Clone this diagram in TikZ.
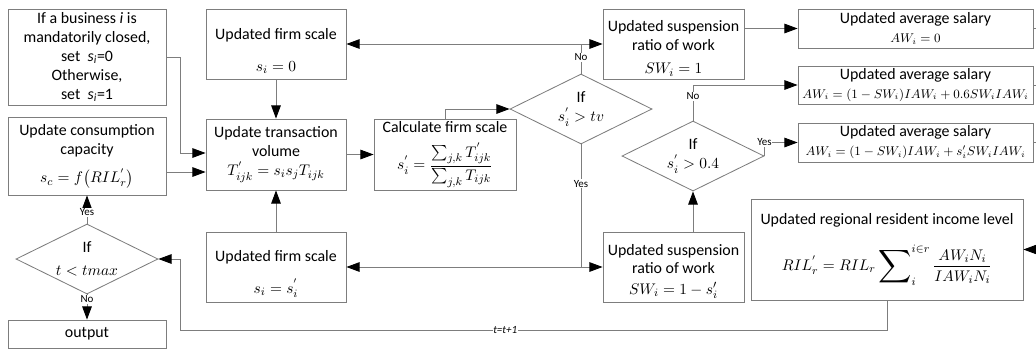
\documentclass[tikz,border=0pt]{standalone}
\usepackage{fontspec}
\setmainfont{Carlito}
\usepackage{amsmath}
\usetikzlibrary{shapes.geometric,arrows.meta,calc}
\definecolor{linegray}{RGB}{125,125,125}
\newcommand{\up}[1]{\rule{0pt}{#1}}
\newcommand{\bigsum}{\mathop{\vcenter{\hbox{\scalebox{1.5}{$\displaystyle\sum$}}}}\nolimits}
\begin{document}
\begin{tikzpicture}[x=0.025cm,y=-0.025cm,line width=0.6pt,
  box/.style 2 args={draw=linegray,minimum width=#1*0.025cm,minimum height=#2*0.025cm,
    inner sep=0pt,align=center,font=\fontsize{11.3}{13.5}\selectfont},
  test/.style={draw=linegray,shape=diamond,aspect=2,inner sep=0pt,
    minimum width=142*0.025cm,minimum height=70*0.025cm,align=center,
    font=\fontsize{11.3}{13.5}\selectfont},
  lbl/.style={fill=white,inner sep=0.5pt,font=\fontsize{7.8}{9}\selectfont},
  conn/.style={draw=linegray},
  arr/.style={draw=linegray,-{Triangle[length=0.33cm,width=0.24cm,color=black]}}]
\useasboundingbox (0,0) rectangle (1036,350);
% left column
\node (closed) at (87,57) [box={158}{96}]
  {If a business \textit{i} is\\ mandatorily closed,\\ set \ \textit{s\textsubscript{i}}=0\\
   Otherwise,\\ set \ \textit{s\textsubscript{i}}=1};
\node (cons) at (87,156) [box={158}{78}]
  {\up{8pt}Update consumption\\ capacity\\[7pt] $s_c = f\big(RIL_r^{'}\big)$};
\node (tmax) at (87,259) [test] {If\\[3pt] $t < tmax$};
\node (out) at (87,334) [box={158}{28}] {output};
% firm scale
\node (zero) at (276,44) [box={140}{70}] {\up{18pt}Updated firm scale\\[9pt] $s_i = 0$};
\node (trans) at (276,154.5) [box={140}{71}]
  {Update transaction\\ volume\\ $T_{ijk}^{'} = s_i s_j T_{ijk}$};
\node (newfs) at (276,267) [box={140}{70}] {\up{18pt}Updated firm scale\\[9pt] $s_i = s_i^{'}$};
\node (calc) at (445,154.5) [box={142}{71}]
  {Calculate firm scale\\[6pt] $s_i^{'} = \dfrac{\textstyle\sum_{j,k} T_{ijk}^{'}}{\textstyle\sum_{j,k} T_{ijk}}$};
\node (tv) at (581,109) [test] {If\\ $s_i^{'} > tv$};
% suspension ratio
\node (susp1) at (673.5,44) [box={141}{70}]
  {\up{14pt}Updated suspension\\ ratio of work\\[3pt] $SW_i = 1$};
\node (susp2) at (673.5,267) [box={141}{70}]
  {\up{14pt}Updated suspension\\ ratio of work\\[1pt] $SW_i = 1 - s_i'$};
\node (half) at (693,156) [test] {If\\ $s_i^{'} > 0.4$};
% salary
\node (sal1) at (915.5,28.5) [box={235}{39}] {Updated average salary\\ {\small$AW_i = 0$}};
\node (sal2) at (915.5,85) [box={235}{38}]
  {Updated average salary\\ {\small$AW_i = (1 - SW_i)IAW_i + 0.6SW_iIAW_i$}};
\node (sal3) at (915.5,142.5) [box={235}{39}]
  {Updated average salary\\ {\small$AW_i = (1 - SW_i)IAW_i + s_i'SW_iIAW_i$}};
\node (ril) at (887,249.5) [box={272}{101}]
  {Updated regional resident income level\\[12pt]
   $RIL_r^{'} = RIL_r \bigsum_i^{i\in r} \dfrac{AW_iN_i}{IAW_iN_i}$};
% edge points
\coordinate (r1) at (1036,28.5);
\coordinate (r2) at (1036,85);
\coordinate (r3) at (1036,142.5);
\coordinate (r4) at (1036,249.5);
\coordinate (loop) at (180,330);
\coordinate (in1) at ($(trans.west)+(0,-1.5)$);
\coordinate (in2) at ($(trans.west)+(0,17.5)$);
% connectors
\draw[arr] (closed.east) -- ++(14,0) |- (in1);
\draw[arr] (cons.east |- in2) -- (in2);
\draw[arr] (tmax.north) -- node[lbl,pos=0.4]{Yes} (cons.south);
\draw[arr] (tmax.south) -- node[lbl,pos=0.2]{No} (out.north);
\draw[arr] (zero.south) -- (trans.north);
\draw[arr] (newfs.north) -- (trans.south);
\draw[arr] (trans.east) -- (calc.west);
\draw[arr] (calc.north) |- (tv.west);
\draw[conn] (tv.north) -- node[lbl,pos=0.55]{No} (tv.north |- zero.east);
\draw[arr] (tv.north |- zero.east) -- (zero.east);
\draw[arr] (tv.north |- susp1.west) -- (susp1.west);
\draw[conn] (tv.south) -- node[lbl,pos=0.32]{Yes} (tv.south |- newfs.east);
\draw[arr] (tv.south |- newfs.east) -- (newfs.east);
\draw[arr] (tv.south |- susp2.west) -- (susp2.west);
\draw[arr] (half.south |- susp2.north) -- (half.south);
\draw[arr] (half.north) |- node[lbl,pos=0.34]{No} (sal2.west);
\draw[arr] (half.east) |- node[lbl,pos=0.5]{Yes} (sal3.west);
\draw[arr] (susp1.east |- sal1.west) -- (sal1.west);
\draw[conn] (sal1.east) -- (r1);
\draw[conn] (sal2.east) -- (r2);
\draw[conn] (sal3.east) -- (r3);
\draw[arr] (r4) -- (ril.east);
\draw[conn] (ril.south) |- node[lbl,pos=0.77]{\textit{t=t+1}} (loop);
\draw[arr] (loop) |- (tmax.east);
\end{tikzpicture}
\end{document}
